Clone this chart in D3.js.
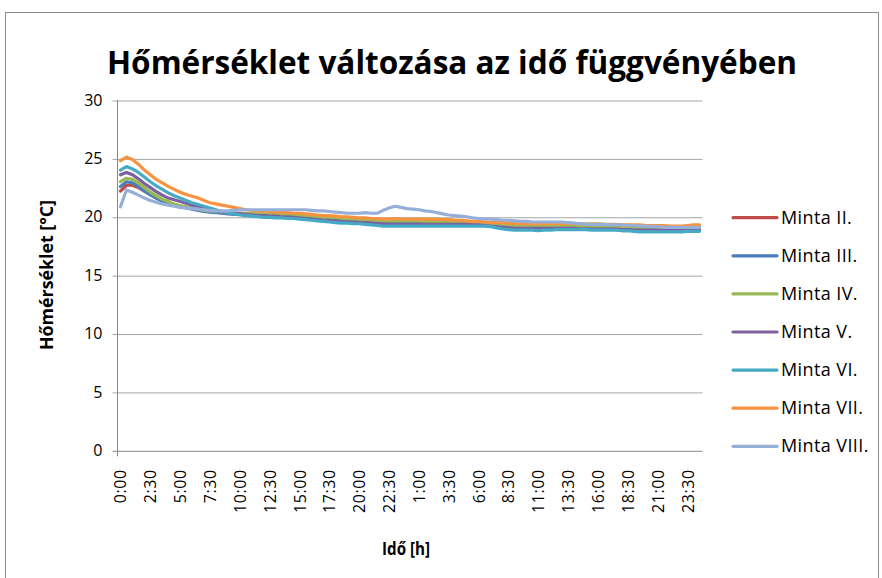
<!DOCTYPE html>
<html lang="hu">
<head>
<meta charset="UTF-8">
<title>Hőmérséklet változása az idő függvényében</title>
<script src="https://d3js.org/d3.v7.min.js"></script>
<style>
  body { margin: 0; background: #fff; }
  svg { font-family: "Open Sans", "Noto Sans", sans-serif; }
</style>
</head>
<body>
<svg width="882" height="578"></svg>
<script>
// fél óránkénti mérési időpontok (két nap + 1 óra)
const times = [
  "0:00","0:30","1:00","1:30","2:00","2:30","3:00","3:30","4:00","4:30","5:00","5:30",
  "6:00","6:30","7:00","7:30","8:00","8:30","9:00","9:30","10:00","10:30","11:00","11:30",
  "12:00","12:30","13:00","13:30","14:00","14:30","15:00","15:30","16:00","16:30","17:00","17:30",
  "18:00","18:30","19:00","19:30","20:00","20:30","21:00","21:30","22:00","22:30","23:00","23:30",
  "0:00","0:30","1:00","1:30","2:00","2:30","3:00","3:30","4:00","4:30","5:00","5:30",
  "6:00","6:30","7:00","7:30","8:00","8:30","9:00","9:30","10:00","10:30","11:00","11:30",
  "12:00","12:30","13:00","13:30","14:00","14:30","15:00","15:30","16:00","16:30","17:00","17:30",
  "18:00","18:30","19:00","19:30","20:00","20:30","21:00","21:30","22:00","22:30","23:00","23:30",
  "0:00","0:30"
];

const names = ["Minta II.", "Minta III.", "Minta IV.", "Minta V.", "Minta VI.", "Minta VII.", "Minta VIII."];
const colors = ["#BE4B48", "#4A7EBB", "#98B954", "#7D60A0", "#46AAC5", "#F69240", "#95AFD9"];

const mintaII = [22.2,22.7,22.7,22.5,22.2,21.9,21.6,21.35,21.2,21.05, 20.9,20.8,20.7,20.6,20.5,20.45,20.4,20.35,20.3,20.3,
  20.3,20.25,20.25,20.2,20.2,20.2,20.15,20.15,20.1,20.1, 20.1,20.05,20.0,19.95,19.9,19.9,19.85,19.8,19.8,19.75,
  19.75,19.7,19.7,19.65,19.6,19.6,19.6,19.6,19.6,19.6, 19.6,19.6,19.6,19.6,19.6,19.6,19.6,19.6,19.55,19.5,
  19.5,19.45,19.4,19.35,19.3,19.3,19.25,19.2,19.2,19.2, 19.2,19.2,19.2,19.2,19.2,19.2,19.2,19.2,19.2,19.2,
  19.2,19.1,19.1,19.1,19.1,19.1,19.1,19.1,19.1,19.1, 19.1,19.05,19.05,19.05,19.05,19.05,19.05,19.05];
const mintaIII = [22.6,23.0,22.9,22.6,22.2,21.9,21.6,21.35,21.15,21.0, 20.85,20.75,20.65,20.55,20.45,20.4,20.35,20.3,20.25,20.2,
  20.2,20.15,20.1,20.1,20.05,20.05,20.0,20.0,20.0,19.95, 19.95,19.9,19.85,19.8,19.8,19.75,19.7,19.7,19.65,19.6,
  19.6,19.55,19.55,19.5,19.5,19.5,19.45,19.45,19.45,19.45, 19.45,19.45,19.45,19.45,19.45,19.45,19.45,19.4,19.4,19.35,
  19.35,19.3,19.25,19.2,19.15,19.1,19.1,19.05,19.05,19.05, 19.05,19.05,19.05,19.05,19.05,19.05,19.05,19.0,19.0,19.0,
  19.0,19.0,18.95,18.95,18.95,18.95,18.95,18.95,18.95,18.9, 18.9,18.9,18.9,18.9,18.9,18.9,18.9,18.9];
const mintaIV = [23.0,23.3,23.2,22.9,22.5,22.1,21.8,21.5,21.3,21.1, 20.95,20.85,20.75,20.65,20.55,20.5,20.45,20.4,20.35,20.3,
  20.3,20.3,20.25,20.25,20.25,20.2,20.2,20.2,20.15,20.15, 20.1,20.1,20.05,20.0,19.95,19.9,19.9,19.85,19.85,19.8,
  19.8,19.75,19.7,19.7,19.65,19.65,19.65,19.65,19.65,19.65, 19.65,19.6,19.6,19.6,19.6,19.6,19.6,19.55,19.55,19.5,
  19.5,19.45,19.4,19.35,19.3,19.3,19.25,19.25,19.25,19.25, 19.25,19.25,19.25,19.2,19.2,19.2,19.2,19.2,19.2,19.2,
  19.15,19.15,19.15,19.15,19.1,19.1,19.1,19.1,19.1,19.05, 19.05,19.05,19.05,19.05,19.05,19.05,19.1,19.1];
const mintaV = [23.6,23.8,23.6,23.25,22.85,22.5,22.15,21.85,21.6,21.45, 21.3,21.15,21.0,20.9,20.75,20.6,20.5,20.4,20.35,20.3,
  20.25,20.2,20.15,20.1,20.1,20.05,20.05,20.0,20.0,19.95, 19.9,19.85,19.8,19.75,19.7,19.7,19.65,19.6,19.55,19.55,
  19.5,19.5,19.45,19.4,19.4,19.35,19.35,19.35,19.35,19.35, 19.35,19.35,19.35,19.35,19.35,19.35,19.35,19.35,19.35,19.3,
  19.3,19.25,19.2,19.15,19.1,19.05,19.0,19.0,19.0,19.0, 19.0,19.0,19.0,19.0,19.0,19.0,19.0,18.95,18.95,18.95,
  18.95,18.95,18.95,18.95,18.9,18.9,18.85,18.85,18.85,18.85, 18.85,18.85,18.85,18.85,18.85,18.85,18.85,18.85];
const mintaVI = [24.0,24.3,24.1,23.8,23.4,23.0,22.65,22.35,22.05,21.8, 21.6,21.4,21.2,21.05,20.9,20.75,20.6,20.45,20.35,20.25,
  20.15,20.1,20.05,20.0,19.95,19.95,19.9,19.9,19.85,19.85, 19.8,19.75,19.7,19.65,19.6,19.55,19.5,19.45,19.45,19.4,
  19.4,19.35,19.3,19.25,19.2,19.2,19.2,19.2,19.2,19.2, 19.2,19.2,19.2,19.2,19.2,19.2,19.2,19.2,19.2,19.2,
  19.2,19.2,19.15,19.05,18.95,18.9,18.85,18.85,18.85,18.85, 18.8,18.85,18.85,18.9,18.9,18.9,18.9,18.9,18.9,18.85,
  18.85,18.85,18.85,18.85,18.8,18.8,18.75,18.7,18.7,18.7, 18.7,18.7,18.7,18.7,18.7,18.75,18.75,18.75];
const mintaVII = [24.8,25.1,24.9,24.5,24.0,23.6,23.2,22.9,22.6,22.35, 22.1,21.9,21.75,21.6,21.4,21.2,21.1,21.0,20.9,20.8,
  20.7,20.6,20.55,20.5,20.5,20.45,20.4,20.4,20.35,20.3, 20.3,20.25,20.2,20.15,20.1,20.1,20.05,20.0,20.0,19.95,
  19.9,19.9,19.85,19.85,19.8,19.8,19.85,19.8,19.8,19.8, 19.8,19.8,19.8,19.8,19.75,19.75,19.7,19.7,19.65,19.6,
  19.6,19.55,19.5,19.5,19.5,19.45,19.45,19.4,19.4,19.4, 19.4,19.4,19.4,19.4,19.4,19.4,19.4,19.4,19.4,19.4,
  19.4,19.35,19.35,19.35,19.3,19.3,19.3,19.3,19.25,19.25, 19.25,19.25,19.2,19.2,19.2,19.25,19.3,19.3];
const mintaVIII = [20.85,22.3,22.1,21.85,21.6,21.4,21.25,21.1,21.0,20.9, 20.8,20.75,20.7,20.65,20.6,20.55,20.5,20.5,20.5,20.55,
  20.6,20.6,20.6,20.6,20.6,20.6,20.6,20.6,20.6,20.6, 20.6,20.6,20.55,20.5,20.5,20.45,20.4,20.35,20.3,20.3,
  20.3,20.35,20.3,20.3,20.55,20.75,20.9,20.8,20.7,20.65, 20.6,20.5,20.45,20.35,20.25,20.15,20.1,20.05,20.0,19.9,
  19.85,19.8,19.8,19.75,19.7,19.7,19.65,19.6,19.6,19.55, 19.55,19.55,19.55,19.55,19.55,19.5,19.45,19.4,19.35,19.35,
  19.35,19.35,19.3,19.3,19.3,19.25,19.25,19.2,19.2,19.15, 19.15,19.1,19.1,19.1,19.1,19.1,19.1,19.1];

const yTicks = [0, 5, 10, 15, 20, 25, 30];

const seriesValues = [mintaII, mintaIII, mintaIV, mintaV, mintaVI, mintaVII, mintaVIII];
const series = names.map((n, k) => ({ name: n, color: colors[k], values: seriesValues[k] }));

const svg = d3.select("svg");

// keret
svg.append("rect")
  .attr("x", 5.5).attr("y", 12.5)
  .attr("width", 873).attr("height", 620)
  .attr("fill", "#fff").attr("stroke", "#8c8c8c").attr("stroke-width", 1);

const plot = { left: 117.5, right: 702.5, top: 100, bottom: 450.3 };

const x = d3.scaleBand()
  .domain(d3.range(times.length))
  .range([plot.left, plot.right])
  .padding(0);
const y = d3.scaleLinear().domain([0, 30]).range([plot.bottom, plot.top]);

// rácsvonalak + y tengely feliratai
const yAxis = d3.axisLeft(y).tickValues(yTicks).tickSize(-(plot.right - plot.left + 5)).tickPadding(10);
const gy = svg.append("g")
  .attr("transform", `translate(${plot.left - 5},0)`)
  .call(yAxis);
gy.select(".domain").remove();
gy.selectAll(".tick line")
  .attr("stroke", d => d === 0 ? "#868686" : "#a6a6a6")
  .attr("transform", "translate(0,0.5)");
gy.selectAll(".tick text")
  .attr("font-size", 16)
  .attr("fill", "#000")
  .attr("font-family", "Open Sans, sans-serif");

// y tengely vonal
svg.append("line")
  .attr("x1", plot.left).attr("x2", plot.left)
  .attr("y1", plot.top).attr("y2", plot.bottom + 6)
  .attr("stroke", "#868686");

// x tengely feliratai (minden 5. időpont)
const gx = svg.append("g");
gx.selectAll("text")
  .data(d3.range(0, times.length, 5))
  .join("text")
  .attr("transform", i => `translate(${x(i) + x.bandwidth() / 2 + 6},${plot.bottom + 19}) rotate(-90)`)
  .attr("text-anchor", "end")
  .attr("font-size", 16)
  .attr("letter-spacing", 0.6)
  .attr("fill", "#000")
  .text(i => times[i]);

// vonalak
const line = d3.line()
  .x((v, i) => x(i) + x.bandwidth() / 2)
  .y(v => y(v));

svg.append("g")
  .selectAll("path")
  .data(series)
  .join("path")
  .attr("d", s => line(s.values))
  .attr("fill", "none")
  .attr("stroke", s => s.color)
  .attr("stroke-width", 3.2)
  .attr("stroke-linejoin", "round")
  .attr("stroke-linecap", "round");

// cím
svg.append("text")
  .attr("x", 452).attr("y", 74)
  .attr("text-anchor", "middle")
  .attr("font-size", 32)
  .attr("font-weight", "bold")
  .attr("textLength", 690)
  .attr("lengthAdjust", "spacingAndGlyphs")
  .text("Hőmérséklet változása az idő függvényében");

// tengelycímek
svg.append("text")
  .attr("transform", "translate(53,275) rotate(-90)")
  .attr("text-anchor", "middle")
  .attr("font-size", 17)
  .attr("font-weight", "bold")
  .attr("textLength", 150)
  .attr("lengthAdjust", "spacingAndGlyphs")
  .text("Hőmérséklet [°C]");

svg.append("text")
  .attr("x", 406).attr("y", 555)
  .attr("text-anchor", "middle")
  .attr("font-size", 17)
  .attr("font-weight", "bold")
  .attr("textLength", 48)
  .attr("lengthAdjust", "spacingAndGlyphs")
  .text("Idő [h]");

// jelmagyarázat
const legend = svg.append("g")
  .selectAll("g")
  .data(series)
  .join("g")
  .attr("transform", (s, k) => `translate(733,${217.7 + k * 38.1})`);
legend.append("line")
  .attr("x1", 0).attr("x2", 44)
  .attr("stroke", s => s.color)
  .attr("stroke-width", 3.2)
  .attr("stroke-linecap", "round");
legend.append("text")
  .attr("x", 48).attr("y", 6)
  .attr("font-size", 18)
  .attr("letter-spacing", 0.4)
  .text(s => s.name);
</script>
</body>
</html>
